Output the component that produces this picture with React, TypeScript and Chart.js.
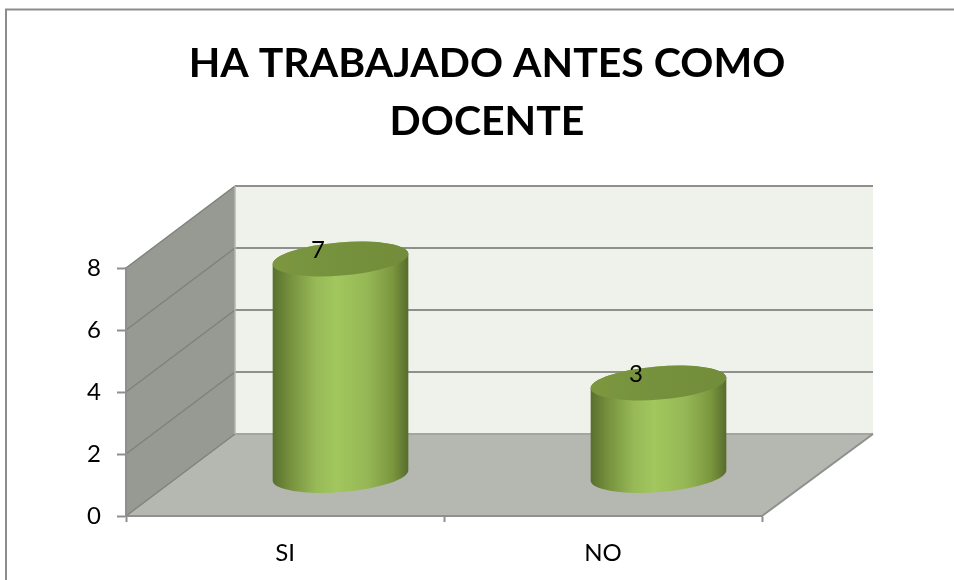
import React, { useEffect, useRef } from "react";
import { Chart, registerables } from "chart.js";

Chart.register(...registerables);

const categories = ["SI", "NO"];
const values = [7, 3];
const titleLines = ["HA TRABAJADO ANTES COMO", "DOCENTE"];
const FONT = "Lato, 'Open Sans', sans-serif";

const DEPTH_X = 109;
const DEPTH_Y = 82;
const TILT = -4.6 * Math.PI / 180;
const RY = 16.6;
const LINE = "#8f908d";

const scene = {
  id: "scene",
  afterLayout(chart: any) {
    chart.titleBlock.left = 20;
    chart.titleBlock.right = 954;
  },
  beforeDraw(chart: any) {
    const { ctx, chartArea: a, scales } = chart;
    const { left: l, right: r, top: t, bottom: b } = a;
    ctx.save();
    ctx.fillStyle = "#ffffff";
    ctx.fillRect(0, 0, chart.width, chart.height);
    // outer frame
    ctx.strokeStyle = "#8c8c8c";
    ctx.lineWidth = 2;
    ctx.beginPath();
    ctx.moveTo(6, chart.height);
    ctx.lineTo(6, 9.5);
    ctx.lineTo(chart.width, 9.5);
    ctx.stroke();
    // back wall
    ctx.fillStyle = "#eff2eb";
    ctx.fillRect(l + DEPTH_X, t - DEPTH_Y, r - l + 2, b - t);
    // side wall
    ctx.fillStyle = "#979a93";
    ctx.beginPath();
    ctx.moveTo(l, t);
    ctx.lineTo(l + DEPTH_X, t - DEPTH_Y);
    ctx.lineTo(l + DEPTH_X, b - DEPTH_Y);
    ctx.lineTo(l, b);
    ctx.closePath();
    ctx.fill();
    // floor
    ctx.fillStyle = "#b5b8b0";
    ctx.beginPath();
    ctx.moveTo(l, b);
    ctx.lineTo(r, b);
    ctx.lineTo(r + DEPTH_X + 2, b - DEPTH_Y);
    ctx.lineTo(l + DEPTH_X, b - DEPTH_Y);
    ctx.closePath();
    ctx.fill();
    // grid on both walls, from the value scale
    for (const tick of scales.y.ticks) {
      const y = scales.y.getPixelForValue(tick.value);
      ctx.strokeStyle = "#7f817c";
      ctx.lineWidth = 1.5;
      ctx.beginPath();
      ctx.moveTo(l, y);
      ctx.lineTo(l + DEPTH_X, y - DEPTH_Y);
      ctx.stroke();
      ctx.lineWidth = 2;
      ctx.strokeStyle = tick.value === 0 ? "#a3a5a0" : LINE;
      ctx.beginPath();
      ctx.moveTo(l + DEPTH_X, y - DEPTH_Y);
      ctx.lineTo(r + DEPTH_X + 2, y - DEPTH_Y);
      ctx.stroke();
    }
    // wall edge and floor edge
    ctx.strokeStyle = "#b4b6b1";
    ctx.lineWidth = 1.5;
    ctx.beginPath();
    ctx.moveTo(l + DEPTH_X, t - DEPTH_Y);
    ctx.lineTo(l + DEPTH_X, b - DEPTH_Y);
    ctx.stroke();
    ctx.strokeStyle = LINE;
    ctx.lineWidth = 2;
    ctx.beginPath();
    ctx.moveTo(r, b);
    ctx.lineTo(r + DEPTH_X + 2, b - DEPTH_Y);
    ctx.stroke();
    ctx.restore();
  },
  beforeDatasetDraw(chart: any, args: any) {
    const { ctx } = chart;
    const meta = chart.getDatasetMeta(args.index);
    meta.data.forEach((bar: any, i: number) => {
      const { x, y, base, width } = bar.getProps(["x", "y", "base", "width"], true);
      const cx = x + DEPTH_X / 2 + 1;
      const top = y - DEPTH_Y / 2 + 1;
      const bottom = base - DEPTH_Y / 2 + 1;
      const rx = width / 2;
      ctx.save();
      // body
      const g = ctx.createLinearGradient(cx - rx, 0, cx + rx, 0);
      g.addColorStop(0, "#586f2e");
      g.addColorStop(0.12, "#748f3c");
      g.addColorStop(0.32, "#97b957");
      g.addColorStop(0.47, "#a2c75e");
      g.addColorStop(0.7, "#95b755");
      g.addColorStop(0.88, "#7c983f");
      g.addColorStop(1, "#566c2c");
      ctx.fillStyle = g;
      ctx.beginPath();
      ctx.ellipse(cx, top, rx, RY, TILT, Math.PI, 2 * Math.PI);
      ctx.ellipse(cx, bottom, rx, RY, TILT, 0, Math.PI);
      ctx.closePath();
      ctx.fill();
      // lid
      const lid = ctx.createLinearGradient(cx - rx, 0, cx + rx, 0);
      lid.addColorStop(0, "#7c973f");
      lid.addColorStop(0.5, "#76913d");
      lid.addColorStop(1, "#728c3b");
      ctx.fillStyle = lid;
      ctx.beginPath();
      ctx.ellipse(cx, top, rx, RY, TILT, 0, 2 * Math.PI);
      ctx.fill();
      // value label
      ctx.fillStyle = "#000000";
      ctx.font = `24px ${FONT}`;
      ctx.textAlign = "center";
      ctx.textBaseline = "middle";
      ctx.fillText(String(values[i]), cx - 22.5, top - 9);
      ctx.restore();
    });
    return false;
  },
};

export default function App() {
  const ref = useRef<HTMLCanvasElement>(null);
  useEffect(() => {
    const chart = new Chart(ref.current!, {
      type: "bar",
      plugins: [scene],
      data: {
        labels: categories,
        datasets: [
          {
            data: values,
            backgroundColor: "#9bbb59",
            categoryPercentage: 1,
            barPercentage: 0.428,
          },
        ],
      },
      options: {
        animation: false,
        responsive: false,
        layout: { padding: { left: 0, right: 192, top: 0, bottom: 0 } },
        plugins: {
          legend: { display: false },
          tooltip: { enabled: false },
          title: {
            display: true,
            text: titleLines,
            color: "#000000",
            font: { family: FONT, size: 41, weight: "bold", lineHeight: 58 / 41 },
            padding: { top: 35, bottom: 117 },
          },
        },
        scales: {
          x: {
            afterFit: (s: any) => { s.height = 64; },
            grid: { drawOnChartArea: false, drawTicks: true, tickLength: 6, tickColor: LINE, tickWidth: 2 },
            border: { color: LINE, width: 2 },
            ticks: { color: "#000000", padding: 16.5, font: { family: FONT, size: 24 } },
          },
          y: {
            min: 0,
            max: 8,
            afterFit: (s: any) => { s.width = 126; },
            grid: { drawOnChartArea: false, drawTicks: true, tickLength: 9, tickColor: LINE, tickWidth: 2 },
            border: { color: LINE, width: 2 },
            ticks: { color: "#000000", stepSize: 2, padding: 16, font: { family: FONT, size: 24 } },
          },
        },
      },
    } as any);
    return () => chart.destroy();
  }, []);
  return (
    <canvas
      ref={ref}
      width={954}
      height={580}
      style={{ position: "fixed", left: 0, top: 0, display: "block", width: 954, height: 580 }}
    />
  );
}
